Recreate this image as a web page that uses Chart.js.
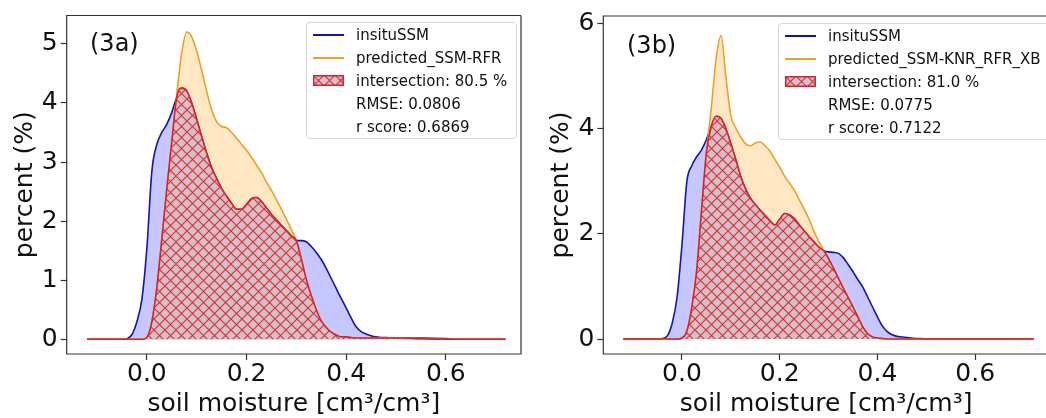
<!DOCTYPE html>
<html>
<head>
<meta charset="utf-8">
<script src="https://cdn.jsdelivr.net/npm/chart.js@4.4.1/dist/chart.umd.min.js"></script>
<style>
  html, body { margin:0; padding:0; background:#fff; }
  body { width:1046px; height:418px; overflow:hidden; position:relative; font-family:"DejaVu Sans", sans-serif; }
  .wrap { position:absolute; top:0; height:418px; }
  .leg { position:absolute; background:rgba(255,255,255,0.85); border:1px solid #d6d6d6; border-radius:4px; box-sizing:border-box; }
  .row { position:absolute; height:20px; line-height:20px; font-size:15px; color:#111; white-space:nowrap; }
  .sym { position:absolute; }
  .panel { position:absolute; font-size:24px; color:#111; line-height:30px; }
</style>
</head>
<body>
<div class="wrap" style="left:0;width:528px"><canvas id="ca" width="528" height="418"></canvas></div>
<div class="wrap" style="left:530px;width:525px"><canvas id="cb" width="525" height="418"></canvas></div>
<div class="panel" style="left:90px;top:28px">(3a)</div>
<div class="panel" style="left:627px;top:30px">(3b)</div>
<div id="legA" class="leg" style="left:306px;top:22px;width:211px;height:117px"></div>
<div id="legB" class="leg" style="left:778px;top:23px;width:280px;height:117px"></div>
<script>
// soil moisture grid [cm3/cm3]
const xValues = [-0.12, -0.06, -0.05, -0.04, -0.03, -0.02, -0.01,
  0.00, 0.01, 0.02, 0.03, 0.04, 0.05, 0.06, 0.07, 0.08, 0.09,
  0.10, 0.11, 0.12, 0.13, 0.14, 0.15, 0.16, 0.17, 0.18, 0.19,
  0.20, 0.21, 0.22, 0.23, 0.24, 0.25, 0.26, 0.27, 0.28, 0.29,
  0.30, 0.31, 0.32, 0.33, 0.34, 0.35, 0.36, 0.37, 0.38, 0.39,
  0.40, 0.41, 0.42, 0.43, 0.44, 0.45, 0.46, 0.47, 0.48, 0.49,
  0.50, 0.55, 0.60, 0.62, 0.72];

// (3a)
const insituA = [0, 0, 0, 0.01, 0.08, 0.3, 0.68,
  1.55, 2.85, 3.3, 3.5, 3.64, 3.84, 4.1, 4.25, 4.2, 4.0,
  3.72, 3.43, 3.15, 2.9, 2.72, 2.55, 2.42, 2.3, 2.2, 2.2,
  2.28, 2.38, 2.4, 2.33, 2.22, 2.11, 2.02, 1.93, 1.84, 1.75,
  1.67, 1.67, 1.65, 1.57, 1.47, 1.35, 1.2, 1.03, 0.86, 0.69,
  0.53, 0.36, 0.21, 0.13, 0.09, 0.06, 0.04, 0.03, 0.03, 0.02,
  0.02, 0.02, 0.01, 0, 0];
const predictedA = [0, 0, 0, 0, 0, 0, 0,
  0.03, 0.3, 0.88, 1.7, 2.55, 3.35, 4.15, 4.85, 5.2, 5.12,
  4.88, 4.55, 4.2, 3.88, 3.68, 3.6, 3.58, 3.5, 3.4, 3.3,
  3.2, 3.08, 2.95, 2.82, 2.66, 2.52, 2.36, 2.2, 2.03, 1.86,
  1.67, 1.36, 1.01, 0.74, 0.5, 0.31, 0.2, 0.12, 0.07, 0.04,
  0.04, 0.03, 0.02, 0.02, 0.02, 0.02, 0.02, 0.02, 0.02, 0.02,
  0.02, 0.01, 0, 0, 0];
const intersectionA = [0, 0, 0, 0, 0, 0, 0,
  0.03, 0.3, 0.88, 1.7, 2.55, 3.35, 4.1, 4.25, 4.2, 4.0,
  3.72, 3.43, 3.15, 2.9, 2.72, 2.55, 2.42, 2.3, 2.2, 2.2,
  2.28, 2.38, 2.4, 2.33, 2.22, 2.11, 2.02, 1.93, 1.84, 1.75,
  1.67, 1.36, 1.01, 0.74, 0.5, 0.31, 0.2, 0.12, 0.07, 0.04,
  0.04, 0.03, 0.02, 0.02, 0.02, 0.02, 0.02, 0.02, 0.02, 0.02,
  0.02, 0.01, 0, 0, 0];

// (3b)
const insituB = [0, 0, 0, 0.01, 0.06, 0.3, 0.8,
  1.8, 3.0, 3.3, 3.47, 3.6, 3.8, 4.05, 4.24, 4.2, 4.0,
  3.72, 3.42, 3.1, 2.86, 2.68, 2.56, 2.45, 2.35, 2.25, 2.17,
  2.28, 2.39, 2.36, 2.29, 2.17, 2.06, 1.95, 1.85, 1.75, 1.68,
  1.66, 1.65, 1.63, 1.55, 1.42, 1.28, 1.13, 0.99, 0.8, 0.61,
  0.42, 0.25, 0.14, 0.08, 0.05, 0.04, 0.03, 0.02, 0.01, 0.01,
  0, 0, 0, 0, 0];
const predictedB = [0, 0, 0, 0, 0, 0, 0,
  0.02, 0.15, 0.6, 1.3, 2.45, 3.55, 4.4, 5.35, 5.78, 4.98,
  4.25, 4.02, 3.85, 3.72, 3.68, 3.73, 3.75, 3.68, 3.58, 3.42,
  3.27, 3.1, 2.97, 2.83, 2.65, 2.47, 2.28, 2.05, 1.86, 1.68,
  1.53, 1.35, 1.16, 0.97, 0.79, 0.61, 0.42, 0.23, 0.1, 0.04,
  0.02, 0.01, 0, 0, 0, 0, 0, 0, 0, 0,
  0, 0, 0, 0, 0];
const intersectionB = [0, 0, 0, 0, 0, 0, 0,
  0.02, 0.15, 0.6, 1.3, 2.45, 3.55, 4.05, 4.24, 4.2, 4.0,
  3.72, 3.42, 3.1, 2.86, 2.68, 2.56, 2.45, 2.35, 2.25, 2.17,
  2.28, 2.39, 2.36, 2.29, 2.17, 2.06, 1.95, 1.85, 1.75, 1.68,
  1.53, 1.35, 1.16, 0.97, 0.79, 0.61, 0.42, 0.23, 0.1, 0.04,
  0.02, 0.01, 0, 0, 0, 0, 0, 0, 0, 0,
  0, 0, 0, 0, 0];

const xTickValues = [0, 0.2, 0.4, 0.6];
const yTickValuesA = [0, 1, 2, 3, 4, 5];
const yTickValuesB = [0, 2, 4, 6];

const legendLabelsA = ['insituSSM', 'predicted_SSM-RFR', 'intersection: 80.5 %', 'RMSE: 0.0806', 'r score: 0.6869'];
const legendLabelsB = ['insituSSM', 'predicted_SSM-KNR_RFR_XB', 'intersection: 81.0 %', 'RMSE: 0.0775', 'r score: 0.7122'];

const FONT = '"DejaVu Sans", sans-serif';
const BLUE = '#1414b0';
const ORANGE = '#eba223';
const RED = '#dc2226';

function hatchPattern() {
  const s = 11;
  const c = document.createElement('canvas');
  c.width = s; c.height = s;
  const g = c.getContext('2d');
  g.fillStyle = 'rgb(212,192,200)';
  g.fillRect(0, 0, s, s);
  g.strokeStyle = 'rgba(222,36,40,0.95)';
  g.lineWidth = 1.1;
  g.beginPath();
  g.moveTo(-1, -1); g.lineTo(s + 1, s + 1);
  g.moveTo(s + 1, -1); g.lineTo(-1, s + 1);
  g.stroke();
  return g.createPattern(c, 'repeat');
}

const framePlugin = {
  id: 'frame',
  afterDatasetsDraw(chart, args, opts) {
    const { ctx, chartArea: a } = chart;
    ctx.save();
    ctx.strokeStyle = '#333';
    ctx.lineWidth = 1.2;
    ctx.beginPath();
    ctx.moveTo(a.right, a.top);
    ctx.lineTo(a.left, a.top);
    ctx.lineTo(a.left, a.bottom);
    ctx.lineTo(a.right, a.bottom);
    if (!opts.openRight) ctx.lineTo(a.right, a.top);
    ctx.stroke();
    ctx.restore();
  }
};

function makeChart(id, ins, pred, inter, cfg) {
  const pts = arr => xValues.map((x, i) => ({ x: x, y: arr[i] }));
  const common = { pointRadius: 0, borderWidth: 1.6, fill: 'origin', cubicInterpolationMode: 'monotone' };
  return new Chart(document.getElementById(id), {
    type: 'line',
    data: {
      datasets: [
        Object.assign({ label: cfg.labels[0], data: pts(ins), borderColor: BLUE, backgroundColor: 'rgba(0,0,255,0.22)', order: 3 }, common),
        Object.assign({ label: cfg.labels[1], data: pts(pred), borderColor: ORANGE, backgroundColor: 'rgba(255,172,40,0.28)', order: 2 }, common),
        Object.assign({ label: cfg.labels[2], data: pts(inter), borderColor: RED, backgroundColor: hatchPattern(), order: 1 }, common)
      ]
    },
    options: {
      responsive: false,
      animation: false,
      devicePixelRatio: 1,
      layout: { padding: { top: cfg.padTop, right: cfg.padRight, left: 0, bottom: 0 } },
      plugins: { legend: { display: false }, tooltip: { enabled: false }, frame: { openRight: cfg.openRight } },
      scales: {
        x: {
          type: 'linear', min: -0.161, max: 0.751,
          afterBuildTicks: s => { s.ticks = xTickValues.map(v => ({ value: v })); },
          afterFit: s => { s.height = 64; },
          ticks: { callback: v => Number(v).toFixed(1), font: { family: FONT, size: 25, lineHeight: 1 }, color: '#111', padding: 2, maxRotation: 0, autoSkip: false },
          grid: { display: true, drawOnChartArea: false, drawTicks: true, tickLength: 6, color: '#333', tickWidth: 1.2 },
          border: { display: false },
          title: { display: true, text: 'soil moisture [cm³/cm³]', font: { family: FONT, size: 25, lineHeight: 1 }, color: '#111', padding: { top: 0, bottom: 1 } }
        },
        y: {
          type: 'linear', min: cfg.yMin, max: cfg.yMax,
          afterBuildTicks: s => { s.ticks = cfg.yTicks.map(v => ({ value: v })); },
          afterFit: s => { s.width = cfg.yWidth; },
          ticks: { callback: v => String(v), font: { family: FONT, size: 25, lineHeight: 1 }, color: '#111', padding: 3, autoSkip: false },
          grid: { display: true, drawOnChartArea: false, drawTicks: true, tickLength: 6, color: '#333', tickWidth: 1.2 },
          border: { display: false },
          title: { display: true, text: 'percent (%)', font: { family: FONT, size: 25, lineHeight: 1 }, color: '#111', padding: { top: cfg.yTitlePad, bottom: 0 } }
        }
      }
    },
    plugins: [framePlugin]
  });
}

makeChart('ca', insituA, predictedA, intersectionA, {
  labels: legendLabelsA, padTop: 14, padRight: 7, yMin: -0.25, yMax: 5.48, yTicks: yTickValuesA, yWidth: 66.7, yTitlePad: 13, openRight: false
});
makeChart('cb', insituB, predictedB, intersectionB, {
  labels: legendLabelsB, padTop: 16, padRight: 6, yMin: -0.285, yMax: 6.15, yTicks: yTickValuesB, yWidth: 73.3, yTitlePad: 19, openRight: true
});

function buildLegend(id, labels) {
  const box = document.getElementById(id);
  const colors = [BLUE, ORANGE];
  labels.forEach((t, i) => {
    const cy = 11.5 + i * 23;
    if (i < 2) {
      const l = document.createElement('div');
      l.className = 'sym';
      l.style.cssText = `left:6px;top:${cy - 1}px;width:31px;height:2px;background:${colors[i]}`;
      box.appendChild(l);
    } else if (i === 2) {
      const c = document.createElement('canvas');
      c.width = 31; c.height = 11;
      c.className = 'sym';
      c.style.cssText = `left:6px;top:${cy - 5.5}px`;
      const g = c.getContext('2d');
      g.fillStyle = hatchPattern();
      g.fillRect(0, 0, 31, 11);
      g.strokeStyle = RED; g.lineWidth = 1.5;
      g.strokeRect(0.75, 0.75, 29.5, 9.5);
      box.appendChild(c);
    }
    const r = document.createElement('div');
    r.className = 'row';
    r.style.left = '49px';
    r.style.top = (cy - 10) + 'px';
    r.textContent = t;
    box.appendChild(r);
  });
}
buildLegend('legA', legendLabelsA);
buildLegend('legB', legendLabelsB);
</script>
</body>
</html>
